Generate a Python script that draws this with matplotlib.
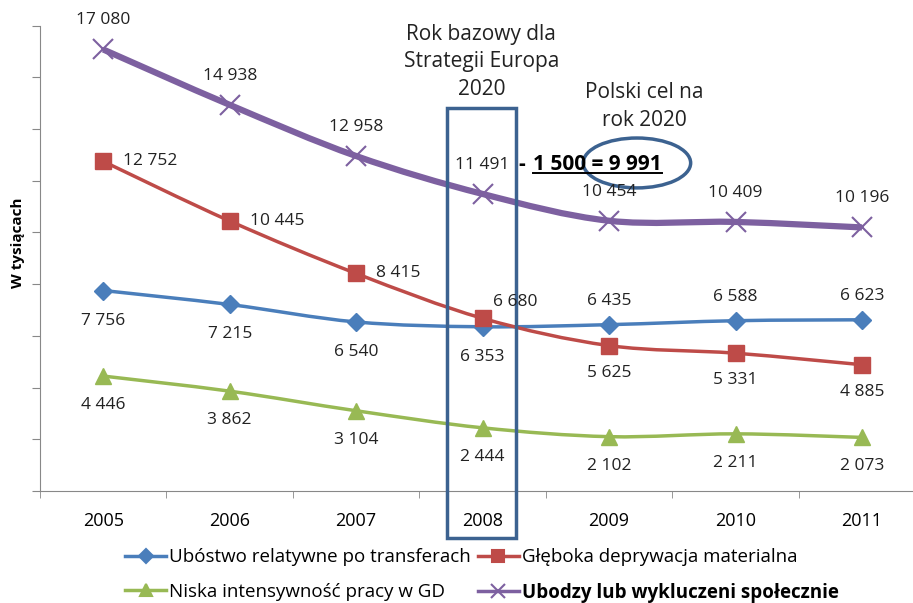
import matplotlib
matplotlib.use('Agg')
import matplotlib.pyplot as plt
import numpy as np
from matplotlib.path import Path
from matplotlib.patches import PathPatch, Rectangle, Ellipse
from matplotlib.lines import Line2D

plt.rcParams['font.family'] = ['Open Sans', 'DejaVu Sans']

years = ['2005', '2006', '2007', '2008', '2009', '2010', '2011']
poverty = [7756, 7215, 6540, 6353, 6435, 6588, 6623]
deprivation = [12752, 10445, 8415, 6680, 5625, 5331, 4885]
low_work = [4446, 3862, 3104, 2444, 2102, 2211, 2073]
excluded = [17080, 14938, 12958, 11491, 10454, 10409, 10196]

names = ['Ubóstwo relatywne po transferach', 'Głęboka deprywacja materialna',
         'Niska intensywność pracy w GD', 'Ubodzy lub wykluczeni społecznie']


def fmt(v):
    return f'{v:,}'.replace(',', ' ')


def smooth_path(xs, ys):
    # Excel-style smoothed line: cubic Bezier segments through the points
    pts = np.column_stack([xs, ys]).astype(float)
    n = len(pts)
    verts = [pts[0]]
    codes = [Path.MOVETO]
    for i in range(n - 1):
        p0 = pts[max(i - 1, 0)]
        p1 = pts[i]
        p2 = pts[i + 1]
        p3 = pts[min(i + 2, n - 1)]
        c1 = p1 + (p2 - p0) / 6.0
        c2 = p2 - (p3 - p1) / 6.0
        verts += [c1, c2, p2]
        codes += [Path.CURVE4] * 3
    return Path(verts, codes)


fig = plt.figure(figsize=(9.13, 6.03), dpi=100)
ax = fig.add_axes([40 / 913, 1 - 491 / 603, 1 - 40 / 913, (491 - 25.7) / 603])

x = np.arange(len(years))
series = [
    (poverty, '#4a7ebb', 'D', 9, 2.5),
    (deprivation, '#be4b48', 's', 11, 2.5),
    (low_work, '#98b954', '^', 12, 2.5),
    (excluded, '#7d60a0', 'x', 14, 4.5),
]
for vals, col, mk, ms, lw in series:
    ax.add_patch(PathPatch(smooth_path(x, vals), fc='none', ec=col, lw=lw, zorder=3))
    if mk == 'x':
        ax.plot(x, vals, ls='none', marker=mk, ms=ms, mec=col, mew=1.5, zorder=4)
    else:
        ax.plot(x, vals, ls='none', marker=mk, ms=ms, mfc=col, mec=col, zorder=4)

# data labels (offsets in pixels)
def lab(xi, v, dx, dy, ha='center'):
    ax.annotate(fmt(v), (xi, v), xytext=(dx * 0.72, dy * 0.72), textcoords='offset points',
                ha=ha, va='center', fontsize=12.5, color='#222222', zorder=6)

for i, v in enumerate(excluded):
    lab(i, v, 0, 29)
for i, v in enumerate(poverty):
    lab(i, v, 0, -30 if i < 4 else 24)
for i, v in enumerate(deprivation):
    if i < 3:
        lab(i, v, 20, 0, 'left')
    elif i == 3:
        lab(i, v, 10, 16, 'left')
    else:
        lab(i, v, 0, -27)
for i, v in enumerate(low_work):
    lab(i, v, 0, -29)

ax.set_xticks(x)
ax.set_xticklabels(years, fontsize=13)
ax.set_xticks(np.arange(-0.5, 6.6, 1), minor=True)
ax.tick_params(axis='x', which='major', length=0, pad=15)
ax.tick_params(axis='x', which='minor', length=5, color='#888888')
ax.set_yticks(np.arange(0, 18001, 2000))
ax.set_yticklabels([])
ax.tick_params(axis='y', length=6, color='#888888')
ax.set_xlim(-0.5, (913 - 103) / 126.5)
ax.set_ylim(0, 18000)
for s in ['top', 'right']:
    ax.spines[s].set_visible(False)
for s in ['left', 'bottom']:
    ax.spines[s].set_color('#888888')
fig.text(18 / 913, 1 - 243 / 603, 'W tysiącach', rotation=90, fontsize=11, fontweight='bold',
         ha='center', va='center')

# base year box and target annotation
box_col = '#3c6290'
ax.add_patch(Rectangle((2.72, -1818), 0.545, 14816 + 1818, fill=False, ec=box_col, lw=2.5,
                       clip_on=False, zorder=5))
ax.add_patch(Ellipse((4.22, 12690), 0.85, 1930, fill=False, ec=box_col, lw=2.5,
                     clip_on=False, zorder=5))
ax.text(3.28, 12418, '-', fontsize=15, fontweight='bold', ha='left', va='baseline', zorder=6)
target = ax.text(3.40, 12418, '1 500 = 9 991', fontsize=15, fontweight='bold', ha='left',
                 va='baseline', zorder=6)
fig.canvas.draw()
bb = target.get_window_extent().transformed(ax.transData.inverted())
ax.plot([bb.x0, bb.x1], [12300, 12300], color='black', lw=1.4, clip_on=False, zorder=6)

ax.text(2.99, 16600, 'Rok bazowy dla\nStrategii Europa\n2020', fontsize=15, ha='center',
        va='center', linespacing=1.4, color='#222222')
ax.text(4.28, 14880, 'Polski cel na\nrok 2020', fontsize=15, ha='center', va='center',
        linespacing=1.4, color='#222222')

# legend
handles = [Line2D([], [], color=c, marker=m, ms=ms * 0.75, lw=2.5, mew=1.5)
           for _, c, m, ms, _ in series]
order = [0, 2, 1, 3]
leg = fig.legend([handles[i] for i in order], [names[i] for i in order], ncol=2,
                 loc='lower left', bbox_to_anchor=(125 / 913, 0.0), frameon=False,
                 fontsize=13.5, handlelength=2.2, handletextpad=0.15, columnspacing=0.37,
                 labelspacing=0.9, borderpad=0, borderaxespad=0)
for t in leg.get_texts():
    if t.get_text() == names[3]:
        t.set_fontweight('bold')

fig.savefig('out.png', dpi=100)
